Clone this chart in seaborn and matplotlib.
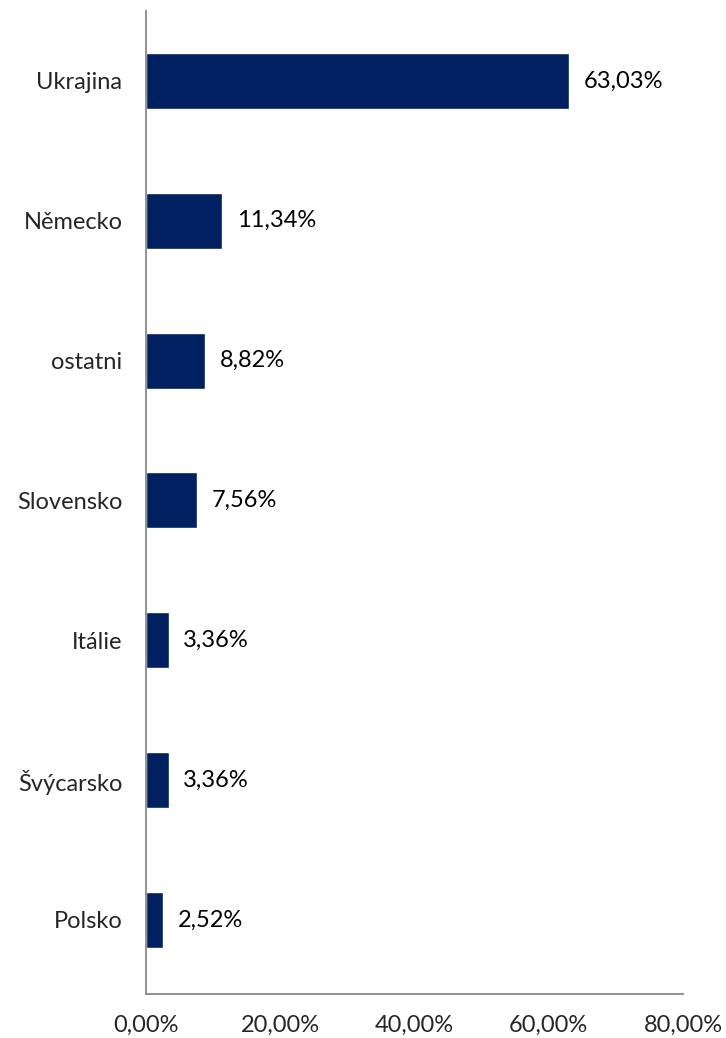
import pandas as pd
import seaborn as sns
import matplotlib.pyplot as plt
import matplotlib.ticker as ticker

countries = ['Ukrajina', 'Německo', 'ostatni', 'Slovensko', 'Itálie', 'Švýcarsko', 'Polsko']
shares = [63.03, 11.34, 8.82, 7.56, 3.36, 3.36, 2.52]
x_ticks = [0, 20, 40, 60, 80]

df = pd.DataFrame({'Země': countries, 'Podíl': shares})

sns.set_style('white')
plt.rcParams['font.family'] = ['Lato', 'DejaVu Sans']

fig = plt.figure(figsize=(7.26, 10.38), dpi=100)
ax = fig.add_axes([0.2011, 0.0424, 0.7397, 0.947])

sns.barplot(data=df, x='Podíl', y='Země', orient='h', color='#002060',
            width=0.4, saturation=1, ax=ax)

for p, v in zip(ax.patches, shares):
    ax.text(p.get_width() + 2.2, p.get_y() + p.get_height() / 2,
            f'{v:.2f}%'.replace('.', ','), va='center', ha='left',
            fontsize=17, color='black')

ax.set_xlim(0, 80)
ax.set_ylim(6.53, -0.5)
ax.set_xticks(x_ticks)
ax.xaxis.set_major_formatter(ticker.FuncFormatter(lambda v, _: f'{v:.2f}%'.replace('.', ',')))
ax.tick_params(axis='x', length=0, pad=15, labelsize=17)
ax.tick_params(axis='y', length=0, pad=17, labelsize=17)
ax.set_xlabel('')
ax.set_ylabel('')

for side in ['top', 'right']:
    ax.spines[side].set_visible(False)
for side in ['left', 'bottom']:
    ax.spines[side].set_color('#898989')
    ax.spines[side].set_linewidth(1.3)

fig.savefig('out.png', dpi=100)
